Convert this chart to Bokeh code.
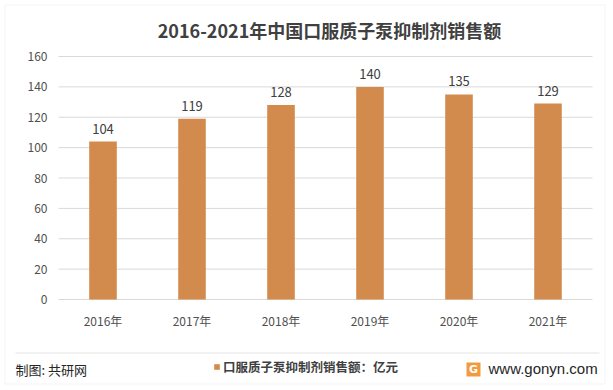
from bokeh.plotting import figure
from bokeh.models import (ColumnDataSource, Range1d, Label, BoxAnnotation, Legend, LegendItem)
from bokeh.core.properties import value
from bokeh.embed import file_html
from bokeh.resources import INLINE

years = ["2016年", "2017年", "2018年", "2019年", "2020年", "2021年"]
sales = [104, 119, 128, 140, 135, 129]
y_ticks = [0, 20, 40, 60, 80, 100, 120, 140, 160]
title_text = "2016-2021年中国口服质子泵抑制剂销售额"
series_name = "口服质子泵抑制剂销售额：亿元"
source_text = "制图: 共研网"
site_text = "www.gonyn.com"

CJK = "Noto Sans CJK SC"
BAR = "#D38B4D"
W, H = 613, 390
# plot area in pixels (left, right, top, bottom)
PL, PR, PT, PB = 58, 592, 56, 299
n = len(years)
ymax = y_ticks[-1]
xs = (PR - PL) / n
ys = (PB - PT) / ymax

p = figure(width=W, height=H, output_backend="svg", toolbar_location=None,
           x_range=Range1d(-PL / xs, n + (W - PR) / xs),
           y_range=Range1d(-(H - PB) / ys, ymax + PT / ys),
           min_border=0)
p.axis.visible = False
p.grid.visible = False
p.outline_line_color = None
p.background_fill_color = "white"
p.border_fill_color = "white"

xpos = [i + 0.5 for i in range(n)]
src = ColumnDataSource(dict(x=xpos, top=sales, lbl=[str(v) for v in sales], cat=years))

# gridlines
p.segment(x0=[0] * len(y_ticks), x1=[n] * len(y_ticks), y0=y_ticks, y1=y_ticks,
          line_color="#d9d9d9", line_width=1)

r = p.vbar(x="x", top="top", bottom=0, width=0.31, source=src, fill_color=BAR, line_color=None)

# tick labels
p.text(x=[0] * len(y_ticks), y=y_ticks, text=[str(t) for t in y_ticks], x_offset=-11,
       text_align="right", text_baseline="middle", text_font=value(CJK),
       text_font_size="12px", text_color="#505050")
p.text(x="x", y=0, text="cat", source=src, y_offset=12, text_align="center",
       text_baseline="top", text_font=value(CJK), text_font_size="12px",
       text_color="#505050")

# value labels
p.text(x="x", y="top", text="lbl", source=src, y_offset=-8, text_align="center",
       text_baseline="bottom", text_font=value(CJK), text_font_size="13px",
       text_color="#404040")

# outer border and separator
p.add_layout(BoxAnnotation(left=4.5, right=604.5, top=H - 4.5, bottom=H - 383.5,
                           left_units="screen", right_units="screen",
                           top_units="screen", bottom_units="screen",
                           fill_color=None, line_color="#d9d9d9", line_width=1))
p.add_layout(BoxAnnotation(left=15, right=599, top=H - 352, bottom=H - 353,
                           left_units="screen", right_units="screen",
                           top_units="screen", bottom_units="screen",
                           fill_color="#e3e3e3", fill_alpha=1, line_color=None))

# title
p.add_layout(Label(x=329, y=H - 29, x_units="screen", y_units="screen", text=title_text,
                   text_align="center", text_baseline="middle", text_font=CJK,
                   text_font_size="18px", text_font_style="bold", text_color="#404040"))

# footer
p.add_layout(Label(x=15, y=H - 369, x_units="screen", y_units="screen", text=source_text,
                   text_align="left", text_baseline="middle", text_font=CJK,
                   text_font_size="13px", text_color="#262626"))

legend = Legend(items=[LegendItem(label=series_name, renderers=[r])],
                location=(213, H - 376), orientation="horizontal",
                glyph_width=7, glyph_height=7, label_standoff=3, padding=0, margin=0,
                label_text_font=CJK, label_text_font_size="12.5px",
                label_text_font_style="bold", label_text_color="#404040",
                label_height=14, border_line_color=None, background_fill_alpha=0)
p.add_layout(legend)

# logo
p.add_layout(BoxAnnotation(left=466, right=480, top=H - 362, bottom=H - 376,
                           left_units="screen", right_units="screen",
                           top_units="screen", bottom_units="screen",
                           fill_color="#F29A3E", fill_alpha=1, line_color=None))
p.add_layout(Label(x=473, y=H - 369, x_units="screen", y_units="screen", text="G",
                   text_align="center", text_baseline="middle", text_font="DejaVu Sans",
                   text_font_size="11px", text_font_style="bold", text_color="white"))
p.add_layout(Label(x=488, y=H - 368, x_units="screen", y_units="screen", text=site_text,
                   text_align="left", text_baseline="middle", text_font="Liberation Sans",
                   text_font_size="15px", text_color="#262626"))

open("out.html", "w").write(file_html(p, INLINE))
